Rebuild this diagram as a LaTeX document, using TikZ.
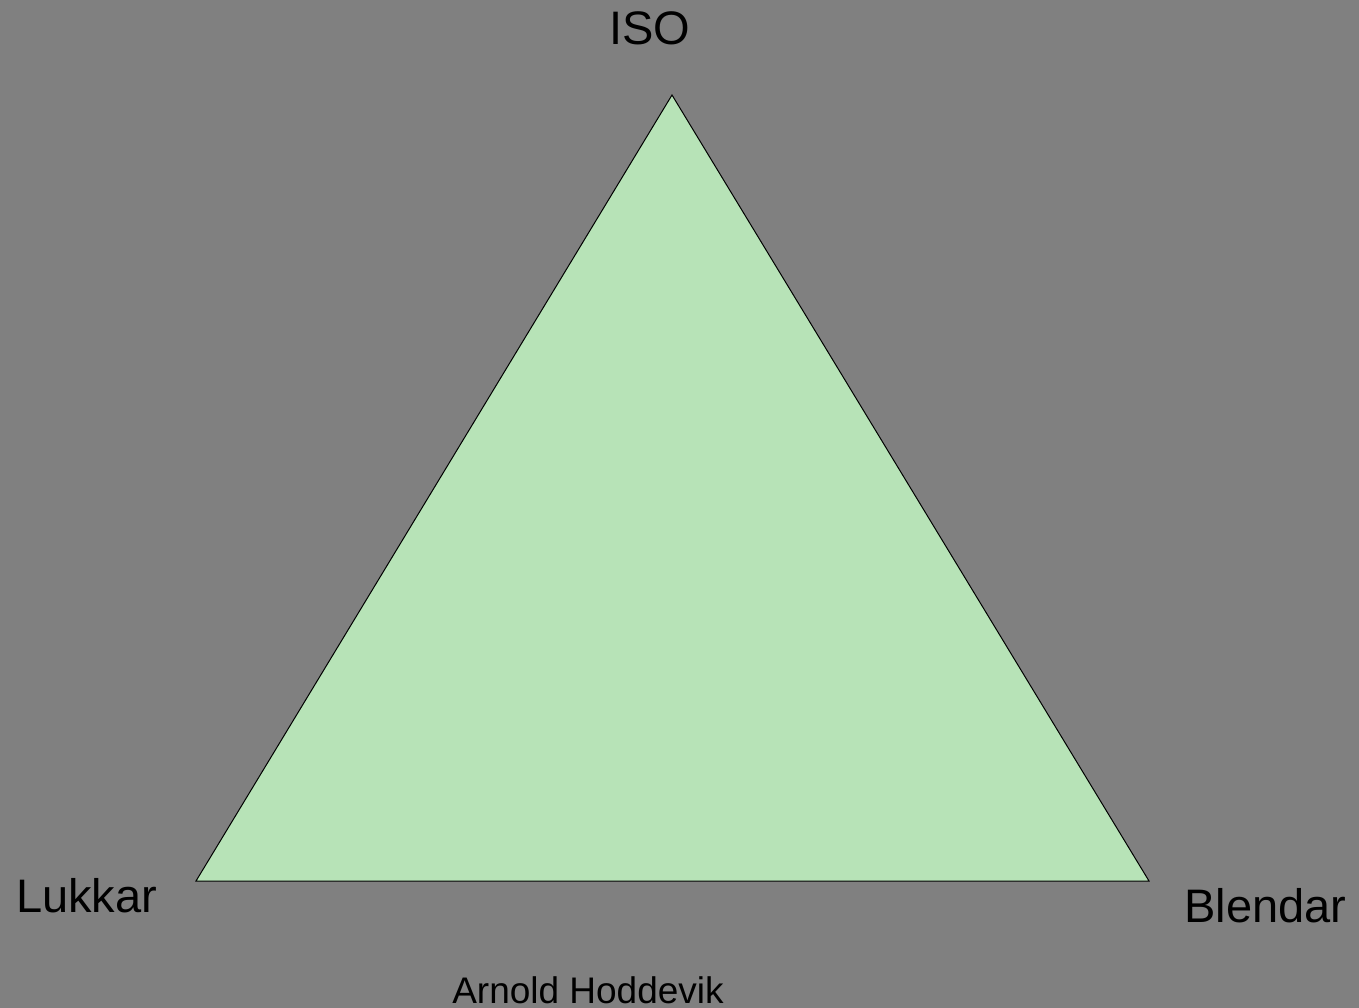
\documentclass[tikz,border=0pt]{standalone}
\usepackage{fontspec}
\setmainfont{Liberation Sans}
\definecolor{bggray}{HTML}{808080}
\definecolor{trifill}{HTML}{B7E3B7}
\tikzset{
  lbl/.style={inner sep=0pt, font=\fontsize{47}{56}\selectfont, anchor=base},
  small/.style={inner sep=0pt, font=\fontsize{37}{44}\selectfont, anchor=base}
}
\begin{document}
\begin{tikzpicture}[x=1pt,y=-1pt]
\fill[bggray] (0,0) rectangle (1359,1008);
\useasboundingbox (0,0) rectangle (1359,1008);
\coordinate (top) at (672,95);
\coordinate (left) at (196,881);
\coordinate (right) at (1149,881);
\filldraw[fill=trifill, draw=black, line width=1pt, line join=miter] (top) -- (left) -- (right) -- cycle;
\node[lbl] (iso) at (650,45) {ISO};
\node[lbl, anchor=base west] (lukkar) at (16,912) {Lukkar};
\node[lbl, anchor=base west] (blendar) at (1184,922) {Blendar};
\node[small] (author) at (588,1003) {Arnold Hoddevik};
\end{tikzpicture}
\end{document}
